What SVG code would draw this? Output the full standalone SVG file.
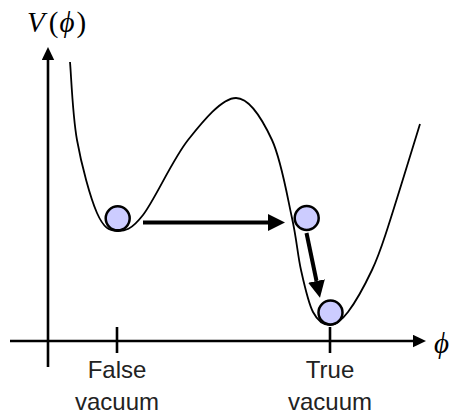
<svg xmlns="http://www.w3.org/2000/svg" width="452" height="416" viewBox="0 0 452 416">
  <style>
    .axis { stroke: #000; stroke-width: 2.6; fill: none; }
    .tick { stroke: #000; stroke-width: 2.6; fill: none; }
    .curve { stroke: #000; stroke-width: 1.8; fill: none; }
    .move { stroke: #000; stroke-width: 4; fill: none; }
    .ball { fill: #ccccff; stroke: #000; stroke-width: 2.5; }
    .lbl { font-family: "Liberation Sans", Arial, sans-serif; font-size: 24px; fill: #222; text-anchor: middle; }
    .math { font-family: "Liberation Serif", "DejaVu Serif", serif; font-size: 29px; fill: #000; }
    .it { font-style: italic; }
  </style>
  <defs>
    <marker id="axhead" markerUnits="userSpaceOnUse" markerWidth="14" markerHeight="13" refX="0" refY="6.2" orient="auto">
      <path d="M0,0 L13,6.2 L0,12.4 z" fill="#000"/>
    </marker>
    <marker id="mvhead" markerUnits="userSpaceOnUse" markerWidth="18" markerHeight="18" refX="0" refY="8.5" orient="auto">
      <path d="M0,0 L17,8.5 L0,17 z" fill="#000"/>
    </marker>
  </defs>

  <g id="axes">
    <line class="axis" x1="48" y1="367" x2="48" y2="60" marker-end="url(#axhead)"/>
    <line class="axis" x1="10" y1="341" x2="413" y2="341" marker-end="url(#axhead)"/>
    <line class="tick" x1="117" y1="327" x2="117" y2="353"/>
    <line class="tick" x1="330" y1="327" x2="330" y2="353"/>
  </g>

  <g id="potential">
    <path class="curve" d="M70,62 C71.2,75 72.5,114.8 77,140 C81.5,165.2 90.3,197.8 97,213 C103.7,228.2 109.3,230.7 117,231 C124.7,231.3 131.2,230.2 143,215 C154.8,199.8 172.5,159.5 188,140 C203.5,120.5 222,98 236,98 C250,98 262.7,120 272,140 C281.3,160 287.2,196.3 292,218 C296.8,239.7 297.5,254.3 301,270 C304.5,285.7 308.2,302.8 313,312 C317.8,321.2 324.2,325 330,325 C335.8,325 341,321.2 348,312 C355,302.8 365.5,283.7 372,270 C378.5,256.3 379,254.3 387,230 C395,205.7 414.5,141.7 420,124"/>
  </g>

  <g id="connectors">
    <line class="move" x1="143" y1="222.5" x2="268" y2="222.5" marker-end="url(#mvhead)"/>
    <line class="move" x1="306.5" y1="233" x2="316.5" y2="281" marker-end="url(#mvhead)"/>
  </g>

  <g id="ball-false">
    <circle class="ball" cx="117.7" cy="218.3" r="12"/>
  </g>
  <g id="ball-middle">
    <circle class="ball" cx="306.7" cy="218" r="12"/>
  </g>
  <g id="ball-true">
    <circle class="ball" cx="330.5" cy="312.5" r="12"/>
  </g>

  <g id="label-V">
    <text class="math" x="27" y="32"><tspan class="it">V</tspan><tspan dx="4">(</tspan><tspan class="it" dx="1">ϕ</tspan><tspan dx="2">)</tspan></text>
  </g>
  <g id="label-phi">
    <text class="math it" x="434" y="353">ϕ</text>
  </g>
  <g id="label-false">
    <text class="lbl" x="117" y="378">False</text>
    <text class="lbl" x="117" y="410">vacuum</text>
  </g>
  <g id="label-true">
    <text class="lbl" x="330" y="378">True</text>
    <text class="lbl" x="330" y="410">vacuum</text>
  </g>
</svg>
